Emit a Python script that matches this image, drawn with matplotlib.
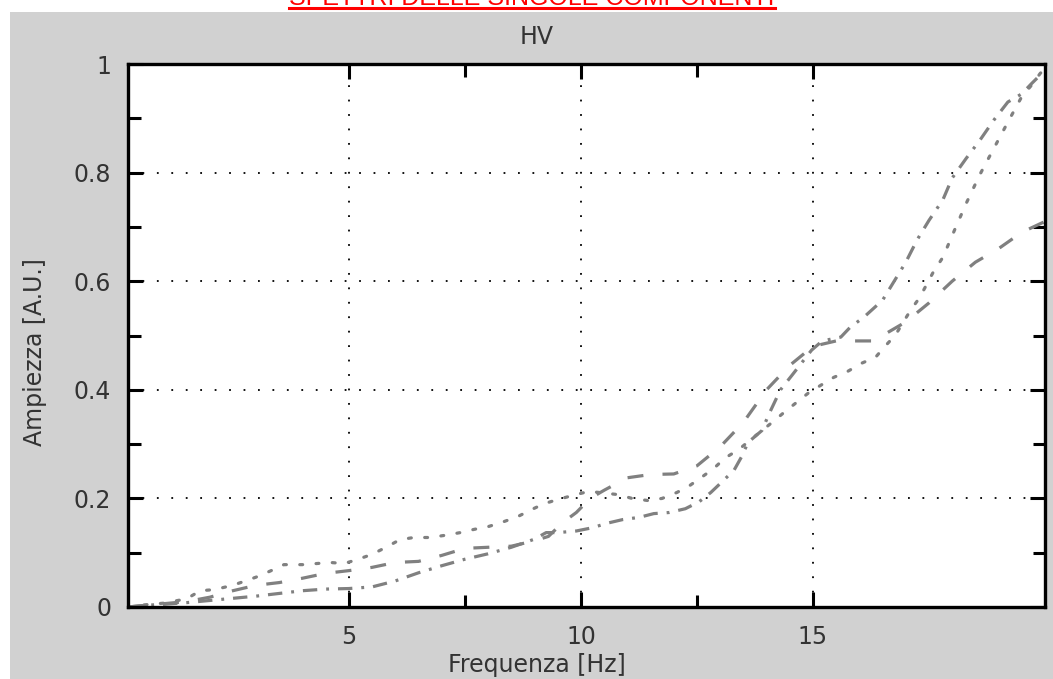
import matplotlib
matplotlib.use("Agg")
import matplotlib.pyplot as plt
from matplotlib.lines import Line2D
from matplotlib.patches import Rectangle
from matplotlib.ticker import FixedLocator

# Three HV spectra (frequency in Hz, amplitude in A.U.)
freq_dash = [0.24, 0.6, 1.0, 1.5, 2.0, 2.5, 3.0, 3.5, 4.0, 4.5, 5.0, 5.5, 6.0, 6.5,
             7.0, 7.5, 8.0, 8.5, 9.0, 9.3, 9.6, 9.9, 10.2, 10.5, 11.0, 11.5, 12.0,
             12.5, 13.0, 13.5, 14.0, 14.5, 15.0, 15.5, 16.0, 16.3, 16.5, 17.0, 17.5,
             18.0, 18.5, 19.0, 19.5, 20.0]
amp_dash = [0.0, 0.003, 0.006, 0.01, 0.018, 0.03, 0.04, 0.045, 0.053, 0.062, 0.067,
            0.073, 0.082, 0.084, 0.095, 0.108, 0.11, 0.112, 0.122, 0.13, 0.155, 0.174,
            0.2, 0.215, 0.238, 0.244, 0.245, 0.26, 0.295, 0.34, 0.4, 0.445, 0.48,
            0.49, 0.49, 0.49, 0.5, 0.525, 0.56, 0.6, 0.635, 0.66, 0.69, 0.71]

freq_dot = [0.24, 0.6, 1.0, 1.5, 1.8, 2.1, 2.5, 3.0, 3.3, 3.6, 4.0, 4.3, 4.6, 4.9,
            5.2, 5.5, 5.8, 6.1, 6.4, 6.75, 7.07, 7.4, 7.7, 8.0, 8.3, 8.65, 8.95, 9.2,
            9.5, 9.85, 10.17, 10.8, 11.1, 11.45, 11.75, 12.07, 12.35, 12.6, 12.86,
            13.1, 13.4, 13.8, 14.15, 14.4, 14.65, 14.9, 15.2, 15.45, 15.75, 16.05,
            16.35, 16.55, 16.77, 17.1, 17.3, 17.6, 17.8, 18.05, 18.3, 18.6, 18.9,
            19.2, 19.5, 19.7, 19.9, 20.0]
amp_dot = [0.0, 0.004, 0.007, 0.015, 0.03, 0.032, 0.04, 0.055, 0.066, 0.078, 0.078,
           0.08, 0.082, 0.08, 0.088, 0.097, 0.11, 0.124, 0.128, 0.128, 0.132, 0.137,
           0.143, 0.148, 0.156, 0.167, 0.18, 0.19, 0.198, 0.206, 0.213, 0.207, 0.2,
           0.196, 0.2, 0.211, 0.224, 0.239, 0.255, 0.274, 0.29, 0.318, 0.342, 0.36,
           0.377, 0.394, 0.41, 0.423, 0.434, 0.449, 0.46, 0.48, 0.5, 0.546, 0.57,
           0.618, 0.644, 0.694, 0.743, 0.797, 0.845, 0.893, 0.94, 0.96, 0.983, 0.99]

freq_dashdot = [0.24, 0.6, 1.0, 1.5, 2.0, 2.5, 3.0, 3.5, 4.0, 4.5, 5.0, 5.5, 6.0,
                6.5, 7.0, 7.5, 8.0, 8.5, 9.0, 9.25, 9.5, 9.9, 10.25, 10.55, 10.9,
                11.25, 11.57, 11.9, 12.25, 12.55, 12.8, 13.07, 13.3, 13.47, 13.6,
                13.9, 14.05, 14.3, 14.55, 14.97, 15.2, 15.6, 15.8, 16.1, 16.5, 16.75,
                17.0, 17.25, 17.5, 17.8, 18.0, 18.3, 18.6, 18.9, 19.2, 19.5, 19.7,
                19.9]
amp_dashdot = [0.0, 0.003, 0.005, 0.008, 0.012, 0.016, 0.02, 0.025, 0.03, 0.033,
               0.034, 0.037, 0.048, 0.063, 0.076, 0.088, 0.098, 0.11, 0.125, 0.137,
               0.137, 0.14, 0.146, 0.154, 0.161, 0.165, 0.172, 0.174, 0.181, 0.194,
               0.211, 0.233, 0.252, 0.278, 0.303, 0.325, 0.355, 0.4, 0.427, 0.473,
               0.49, 0.497, 0.515, 0.534, 0.565, 0.6, 0.635, 0.677, 0.712, 0.75,
               0.79, 0.826, 0.86, 0.897, 0.93, 0.945, 0.963, 0.98]

y_ticks = [0, 0.2, 0.4, 0.6, 0.8, 1.0]
y_tick_labels = ["0", "0.2", "0.4", "0.6", "0.8", "1"]
x_ticks = [5, 10, 15]

W, H = 1053, 679
fig = plt.figure(figsize=(W / 100, H / 100), dpi=100)
fig.patch.set_facecolor("white")

# grey panel behind the plot
fig.patches.append(Rectangle((10 / W, 0), 1 - 10 / W, 1 - 12 / H,
                             transform=fig.transFigure, facecolor="#d1d1d1",
                             edgecolor="none", zorder=-5))

# red underlined heading, cut off at the top edge
fig.text(532 / W, 1 - 5 / H, "SPETTRI DELLE SINGOLE COMPONENTI", color="red",
         fontsize=18, family="Liberation Sans", ha="center", va="baseline")
fig.add_artist(Line2D([289 / W, 775 / W], [1 - 8 / H, 1 - 8 / H], color="red",
                      lw=2.2, transform=fig.transFigure))

ax = fig.add_axes([128 / W, (H - 607) / H, (1045 - 128) / W, (607 - 64) / H])
ax.set_zorder(1)
ax.set_facecolor("white")

grey = "#808080"
ax.plot(freq_dash, amp_dash, color=grey, lw=2.3, linestyle=(0, (5, 6)),
        dash_capstyle="butt")
ax.plot(freq_dot, amp_dot, color=grey, lw=2.3, linestyle=(0, (0.9, 4.2)),
        dash_capstyle="round")
ax.plot(freq_dashdot, amp_dashdot, color=grey, lw=2.3,
        linestyle=(0, (4.5, 2.8, 0.9, 2.8)), dash_capstyle="butt")

ax.set_xlim(0.24, 20)
ax.set_ylim(0, 1)
ax.set_xticks(x_ticks)
ax.set_yticks(y_ticks)
ax.set_yticklabels(y_tick_labels)
ax.xaxis.set_minor_locator(FixedLocator([7.5, 12.5]))
ax.yaxis.set_minor_locator(FixedLocator([0.1, 0.3, 0.5, 0.7, 0.9]))

ax.grid(True, which="major", color="black", linestyle=(0, (1, 7)), lw=1.3)

for s in ax.spines.values():
    s.set_linewidth(2.4)
    s.set_color("black")
ax.tick_params(which="both", direction="in", top=True, right=True, width=2.2,
               color="black", labelsize=17, labelcolor="#333333")
ax.tick_params(which="major", length=11)
ax.tick_params(which="minor", length=9)
ax.tick_params(axis="x", pad=13)
ax.tick_params(axis="y", pad=12)

fig.text(537 / W, 1 - 37 / H, "HV", fontsize=17, color="#333333",
         ha="center", va="center")
fig.text(537 / W, 1 - 665 / H, "Frequenza [Hz]", fontsize=17, color="#333333",
         ha="center", va="center")
fig.text(35 / W, 1 - 352 / H, "Ampiezza [A.U.]", fontsize=17, color="#333333",
         ha="center", va="center", rotation=90)

fig.savefig("out.png", dpi=100)
